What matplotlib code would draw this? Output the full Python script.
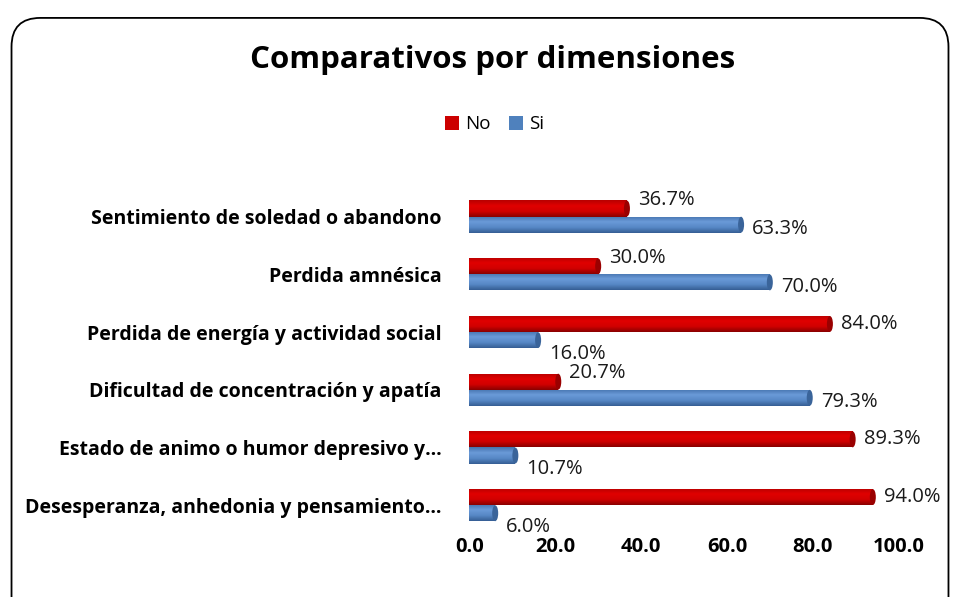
import matplotlib.pyplot as plt
import numpy as np
from matplotlib.patches import FancyBboxPatch, Ellipse
from matplotlib.colors import LinearSegmentedColormap

plt.rcParams['font.family'] = ['Open Sans', 'DejaVu Sans']

categories = [
    'Sentimiento de soledad o abandono',
    'Perdida amnésica',
    'Perdida de energía y actividad social',
    'Dificultad de concentración y apatía',
    'Estado de animo o humor depresivo y…',
    'Desesperanza, anhedonia y pensamiento…',
]
no_values = [36.7, 30.0, 84.0, 20.7, 89.3, 94.0]
si_values = [63.3, 70.0, 16.0, 79.3, 10.7, 6.0]
x_ticks = [0, 20, 40, 60, 80, 100]

red = '#CC0000'
blue = '#4F81BD'
red_cmap = LinearSegmentedColormap.from_list('r', ['#B80000', '#E00000', '#D20000', '#8A0000'])
blue_cmap = LinearSegmentedColormap.from_list('b', ['#4674AE', '#6A9AD8', '#5788C6', '#355E94'])

fig = plt.figure(figsize=(9.6, 5.97), dpi=100)

# rounded chart frame
frame = FancyBboxPatch((0.012, -0.05), 0.976, 1.02, boxstyle='round,pad=0,rounding_size=0.03',
                       transform=fig.transFigure, facecolor='none', edgecolor='black',
                       linewidth=1.3, mutation_aspect=9.6 / 5.97, zorder=-1)
fig.patches.append(frame)

ax = fig.add_axes([0.489, 0.1055, 0.447, 0.58])
ax.set_facecolor('none')

y = np.arange(len(categories))
h = 0.28
bars_no = ax.barh(y - h / 2, no_values, height=h, color=red, edgecolor='none', label='No', zorder=2)
bars_si = ax.barh(y + h / 2, si_values, height=h, color=blue, edgecolor='none', label='Si', zorder=2)

# cylinder shading: vertical gradient clipped to each bar, plus a darker end cap
grad = np.linspace(0, 1, 64).reshape(-1, 1)
for bars, vals, cmap, yc, cap in ((bars_no, no_values, red_cmap, y - h / 2, '#9A0000'),
                                  (bars_si, si_values, blue_cmap, y + h / 2, '#3A649A')):
    for b, v, yy in zip(bars, vals, yc):
        im = ax.imshow(grad, cmap=cmap, aspect='auto', origin='upper',
                       extent=(0, v, yy + h / 2, yy - h / 2), zorder=2.5)
        im.set_clip_path(b)
        ax.add_patch(Ellipse((v, yy), 1.4, h * 0.98, facecolor=cap, edgecolor='none', zorder=3))

# data labels
for i in range(len(categories)):
    n, s = no_values[i], si_values[i]
    dy_n = 6 if n < s else 0
    dy_s = -10 if s < n else -3
    ax.annotate(f'{n:.1f}%', (n, y[i] - h / 2), xytext=(8, dy_n), textcoords='offset points',
                ha='left', va='center', fontsize=14.5, color='#1a1a1a')
    ax.annotate(f'{s:.1f}%', (s, y[i] + h / 2), xytext=(8, dy_s), textcoords='offset points',
                ha='left', va='center', fontsize=14.5, color='#1a1a1a')

ax.set_xlim(0, 100)
ax.set_ylim(len(categories) - 0.5, -0.5)
ax.set_xticks(x_ticks)
ax.set_xticklabels([f'{t:.1f}' for t in x_ticks], fontsize=14.5, fontweight='bold')
ax.set_yticks(y)
ax.set_yticklabels(categories, fontsize=14, fontweight='bold')
ax.tick_params(length=0, pad=2)
ax.tick_params(axis='y', pad=20)
for sp in ax.spines.values():
    sp.set_visible(False)

fig.text(0.513, 0.9, 'Comparativos por dimensiones', ha='center', va='center',
         fontsize=22.5, fontweight='bold')
fig.legend(loc='center', bbox_to_anchor=(0.515, 0.792), ncol=2, frameon=False, fontsize=13.5,
           handlelength=0.75, handleheight=0.75, handletextpad=0.3, columnspacing=1.0)

fig.savefig('out.png', dpi=100)
